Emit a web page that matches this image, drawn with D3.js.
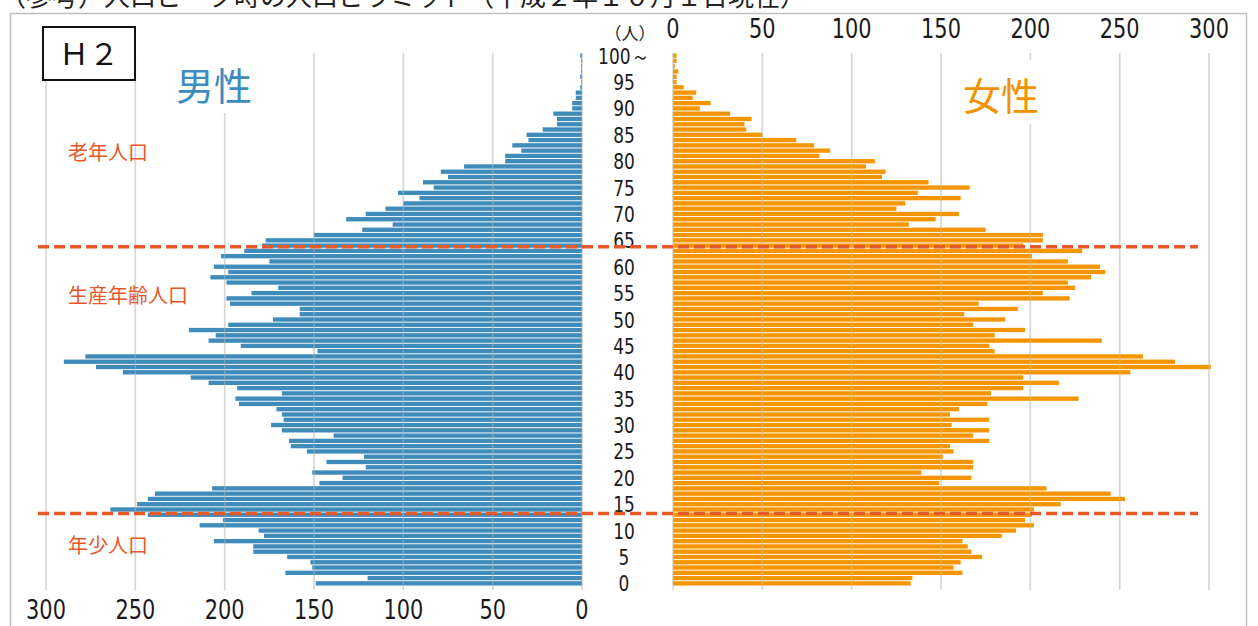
<!DOCTYPE html>
<html lang="ja">
<head>
<meta charset="utf-8">
<title>人口ピラミッド H2</title>
<script src="https://cdn.jsdelivr.net/npm/d3@7"></script>
<style>
  html, body { margin: 0; padding: 0; background: #fff; overflow: hidden; }
  svg { display: block; }
  .num { font-family: "Liberation Sans Narrow", "DejaVu Sans Condensed", "Roboto Condensed", sans-serif; font-stretch: condensed; fill: #1a1a1a; }
  .jp { font-family: "Noto Sans CJK JP", sans-serif; }
</style>
</head>
<body>
<svg id="chart" width="1258" height="626"></svg>
<script>
// 年齢別人口（平成2年10月1日現在） index = 年齢 0..100
const male = [
  149, 120, 166, 151, 152, 165, 184, 184, 206, 178,
  181, 214, 201, 243, 264, 249, 243, 239, 207, 147,
  134, 151, 121, 143, 122, 154, 163, 164, 139, 168,
  174, 167, 168, 171, 192, 194, 168, 193, 209, 219,
  257, 272, 290, 278, 148, 191, 209, 205, 220, 198,
  173, 158, 158, 197, 199, 185, 170, 199, 208, 198,
  206, 175, 202, 189, 179, 177, 150, 123, 106, 132,
  121, 110, 100, 91, 103, 83, 89, 75, 79, 66,
  43, 43, 34, 39, 30, 31, 22, 14, 14, 16,
  5.5, 5.5, 3.5, 3.5, 1, 0.5, 1, 0.5, 0.5, 0.5,
  1
];
const female = [
  133, 134, 162, 157, 161, 173, 167, 165, 162, 184,
  192, 202, 197, 201, 202, 217, 253, 245, 209, 149,
  167, 139, 168, 168, 151, 157, 155, 177, 168, 177,
  156, 177, 155, 160, 176, 227, 178, 196, 216, 196,
  256, 301, 281, 263, 180, 177, 240, 180, 197, 168,
  186, 163, 193, 171, 222, 207, 225, 221, 234, 242,
  239, 221, 201, 229, 196, 207, 207, 175, 132, 147,
  160, 125, 130, 161, 137, 166, 143, 117, 119, 108,
  113, 82, 88, 79, 69, 50, 41, 40, 44, 32,
  15, 21, 11, 13, 6, 2, 2, 3, 1, 2,
  2
];
const ageTicks = [0, 5, 10, 15, 20, 25, 30, 35, 40, 45, 50, 55, 60, 65, 70, 75, 80, 85, 90, 95, 100];
const ageTickLabels = ['0', '5', '10', '15', '20', '25', '30', '35', '40', '45', '50',
  '55', '60', '65', '70', '75', '80', '85', '90', '95', '100～'];
const valueTicks = [0, 50, 100, 150, 200, 250, 300];
const groups = ['老年人口', '生産年齢人口', '年少人口'];
const groupBreaks = [63.8, 13.25];   // 破線の位置（年齢）

const ages = male.map((d, i) => i);

const svg = d3.select('#chart');
const plotTop = 53, plotBottom = 586, gridBottom = 590;

const y = d3.scaleBand().domain(ages).range([plotBottom, plotTop]).paddingInner(0.18).paddingOuter(0.09);
const yAge = d3.scaleLinear().domain([0, 100])
  .range([y(0) + y.bandwidth() / 2, y(100) + y.bandwidth() / 2]);
const xM = d3.scaleLinear().domain([0, 300]).range([582, 46]);
const xF = d3.scaleLinear().domain([0, 300]).range([673, 1209]);

const blue = '#3f8bba', orange = '#f59600', red = '#e5592a';

// title (cut off at the top of the capture, as in the source image)
svg.append('text').attr('class', 'jp')
  .attr('x', 0).attr('y', 6)
  .attr('font-size', 26).attr('fill', '#222')
  .text('（参考）人口ピーク時の人口ピラミッド（平成２年１０月１日現在）');

// outer frame
svg.append('rect')
  .attr('x', 10.5).attr('y', 13.5).attr('width', 1236).attr('height', 660)
  .attr('fill', 'none').attr('stroke', '#bfbfbf').attr('stroke-width', 1.5);

function grid(layer, x, opacity) {
  layer.selectAll(null).data(valueTicks).join('line')
    .attr('x1', d => x(d)).attr('x2', d => x(d))
    .attr('y1', plotTop).attr('y2', gridBottom)
    .attr('stroke', '#d6d6d6').attr('stroke-width', 1.6)
    .attr('stroke-opacity', opacity);
}

const gGrid = svg.append('g');
grid(gGrid, xM, 1);
grid(gGrid, xF, 1);

// bars
svg.append('g').selectAll('rect').data(ages).join('rect')
  .attr('x', a => xM(male[a]))
  .attr('y', a => y(a))
  .attr('width', a => xM(0) - xM(male[a]))
  .attr('height', y.bandwidth())
  .attr('fill', blue);

svg.append('g').selectAll('rect').data(ages).join('rect')
  .attr('x', xF(0))
  .attr('y', a => y(a))
  .attr('width', a => xF(female[a]) - xF(0))
  .attr('height', y.bandwidth())
  .attr('fill', orange);

// faint gridlines showing through the bars
const gOver = svg.append('g');
grid(gOver, xM, 0.3);
grid(gOver, xF, 0.3);

// narrow number labels (squeezed horizontally)
function numLabels(data, xf, yf, size, fmt) {
  svg.append('g').attr('class', 'num')
    .selectAll('text').data(data).join('text')
    .attr('transform', (d, i) => `translate(${xf(d, i)},${yf(d, i)}) scale(0.86,1)`)
    .attr('text-anchor', 'middle').attr('font-size', size)
    .text(fmt);
}

// value axes: male at the bottom, female at the top
numLabels(valueTicks, d => xM(d), () => 619, 27, d => d);
numLabels(valueTicks, d => xF(d), () => 38, 27, d => d);

svg.append('text').attr('class', 'jp')
  .attr('x', 630).attr('y', 40)
  .attr('text-anchor', 'middle').attr('font-size', 17).attr('fill', '#1a1a1a')
  .text('（人）');

// age labels in the middle
numLabels(ageTicks, () => 624, d => yAge(d) + 8, 22, (d, i) => ageTickLabels[i]);

// 男性 / 女性 labels on white boxes
svg.append('rect').attr('x', 168).attr('y', 49).attr('width', 92).attr('height', 64).attr('fill', '#fff');
svg.append('text').attr('class', 'jp')
  .attr('x', 214).attr('y', 86).attr('dy', '0.36em')
  .attr('text-anchor', 'middle').attr('font-size', 38).attr('fill', '#3d8cc0')
  .text('男性');

svg.append('rect').attr('x', 955).attr('y', 60).attr('width', 92).attr('height', 64).attr('fill', '#fff');
svg.append('text').attr('class', 'jp')
  .attr('x', 1001).attr('y', 96).attr('dy', '0.36em')
  .attr('text-anchor', 'middle').attr('font-size', 38).attr('fill', '#f39200')
  .text('女性');

// H2 box
svg.append('rect').attr('x', 43).attr('y', 27).attr('width', 92).attr('height', 53)
  .attr('fill', '#fff').attr('stroke', '#111').attr('stroke-width', 2);
svg.append('text').attr('class', 'jp')
  .attr('x', 89).attr('y', 54).attr('dy', '0.36em')
  .attr('text-anchor', 'middle').attr('font-size', 30).attr('fill', '#111')
  .text('Ｈ２');

// group separators
svg.append('g').selectAll('line').data(groupBreaks).join('line')
  .attr('x1', 38).attr('x2', 1198)
  .attr('y1', d => yAge(d)).attr('y2', d => yAge(d))
  .attr('stroke', red).attr('stroke-width', 3.5)
  .attr('stroke-dasharray', '11,5');

// group labels
const groupY = [153, 296, 546];
svg.append('g').attr('class', 'jp')
  .selectAll('text').data(groups).join('text')
  .attr('x', 68).attr('y', (d, i) => groupY[i]).attr('dy', '0.36em')
  .attr('font-size', 20).attr('fill', red)
  .text(d => d);
</script>
</body>
</html>
